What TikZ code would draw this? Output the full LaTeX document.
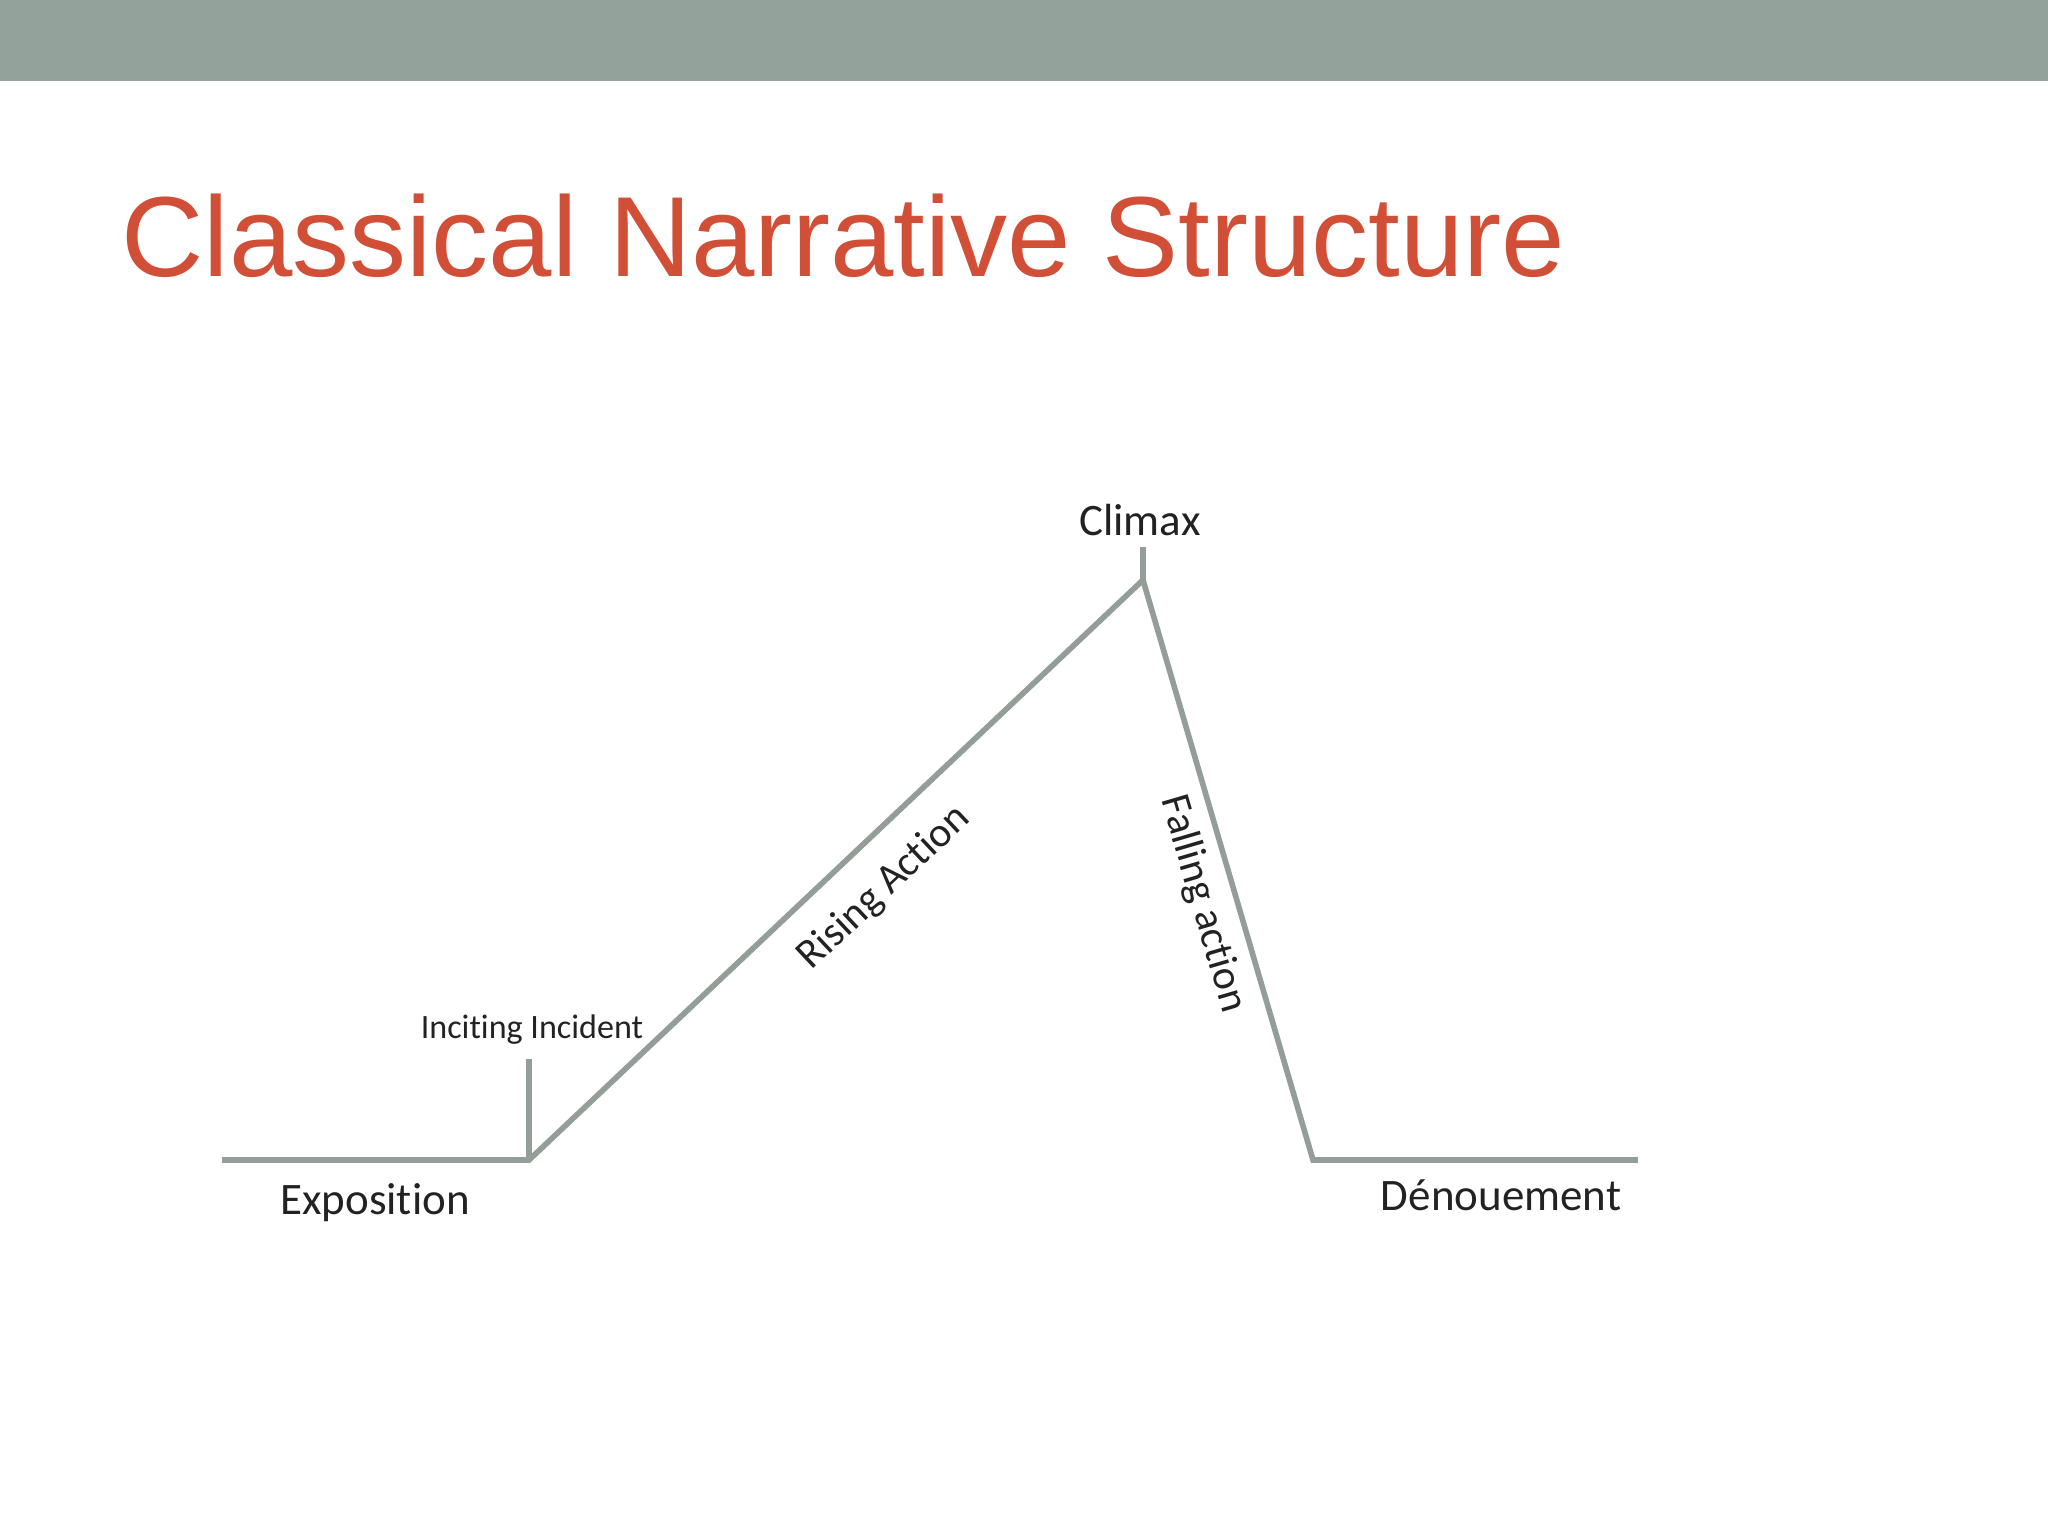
\documentclass[tikz,border=0pt]{standalone}
\usepackage{fontspec}
\setmainfont{Carlito}[Ligatures={NoCommon}]
\newfontfamily\titlefont{Liberation Sans}
\usepackage{tikz}
\usetikzlibrary{positioning}
\definecolor{barcol}{HTML}{93A29A}
\definecolor{linecol}{HTML}{949E99}
\definecolor{titlecol}{HTML}{D14F37}
\definecolor{labelcol}{HTML}{222222}

\begin{document}
\begin{tikzpicture}[x=0.01cm,y=-0.01cm,
  plot line/.style = {draw=linecol, line width=1.6pt, line join=miter},
  stage/.style = {text=labelcol, inner sep=0pt, font=\fontsize{12.8}{15}\selectfont},
  slope stage/.style = {stage, font=\fontsize{11.9}{14}\selectfont},
  small stage/.style = {stage, font=\fontsize{9.7}{11}\selectfont}
  ]
  \useasboundingbox (0,0) rectangle (2048,1536);
  \fill[barcol] (0,0) rectangle (2048,81);
  \node[anchor=base west, inner sep=0pt, text=titlecol,
    font=\titlefont\fontsize{32.4}{38}\selectfont] (title) at (121,276)
    {Classical Narrative Structure};
  % the arc of the story
  \coordinate (start) at (222,1160);
  \coordinate (incite) at (529,1160);
  \coordinate (incitetop) at (529,1059);
  \coordinate (apex) at (1143,580);
  \coordinate (apextop) at (1143,547);
  \coordinate (fallend) at (1313,1160);
  \coordinate (finish) at (1638,1160);
  \draw[plot line] (start) -- (incite) -- (apex) -- (fallend) -- (finish);
  \draw[plot line] (incite) -- (incitetop);
  \draw[plot line] (apex) -- (apextop);
  % labels
  \node[stage] (expo) at (375,1203) {Exposition};
  \node[small stage] (inc) at (532,1030) {Inciting Incident};
  \node[stage] (climax) at (1140,520) {Climax};
  \node[slope stage, rotate=43.3] (rising) at (884,888) {Rising Action};
  \node[slope stage, rotate=-73.7] (falling) at (1203,904) {Falling action};
  \node[stage] (denoue) at (1501,1195) {Dénouement};
\end{tikzpicture}
\end{document}
